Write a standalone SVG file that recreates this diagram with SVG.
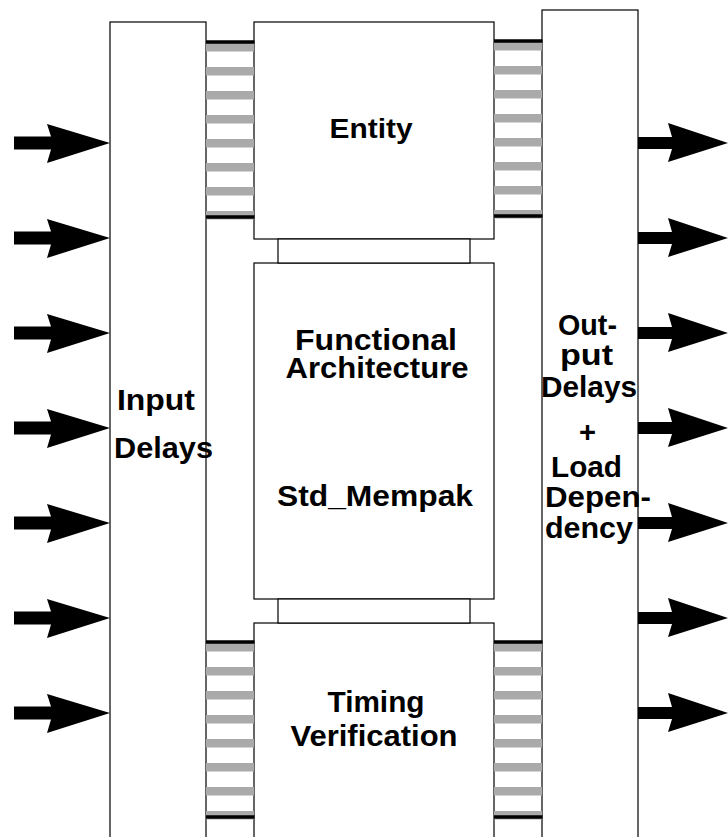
<svg xmlns="http://www.w3.org/2000/svg" width="728" height="837" viewBox="0 0 728 837">
  <style>
    .box { fill: #ffffff; stroke: #000000; stroke-width: 1.2; }
    .rung { fill: #aaaaaa; }
    .bar { stroke: #000000; stroke-width: 3.5; }
    .arrow { fill: #000000; }
    .lbl { font-family: "Liberation Sans", Arial, Helvetica, sans-serif; font-weight: bold; fill: #000000; }
  </style>
  <defs>
    <!-- one ladder of grey rungs between two black bars, 48 wide -->
    <g id="ladder">
      <rect class="rung" x="0" y="0" width="48" height="8.5"/>
      <rect class="rung" x="0" y="24" width="48" height="8.5"/>
      <rect class="rung" x="0" y="48" width="48" height="8.5"/>
      <rect class="rung" x="0" y="72" width="48" height="8.5"/>
      <rect class="rung" x="0" y="96" width="48" height="8.5"/>
      <rect class="rung" x="0" y="120" width="48" height="8.5"/>
      <rect class="rung" x="0" y="144" width="48" height="8.5"/>
      <rect class="rung" x="0" y="168" width="48" height="8.5"/>
      <line class="bar" x1="0" y1="-1" x2="48.5" y2="-1"/>
      <line class="bar" x1="0" y1="174" x2="48.5" y2="174"/>
    </g>
    <polygon id="arrowL" class="arrow" points="14,136.5 51,136.5 47,124 110,143 47,163 51,149.5 14,149.5"/>
    <polygon id="arrowR" class="arrow" points="638,137 672,137 668,123 728,143 668,162 672,149 638,149"/>
  </defs>

  <!-- side columns -->
  <g id="input-delays">
    <rect class="box" x="110" y="22" width="96" height="830"/>
    <text class="lbl" x="117" y="410" font-size="29" textLength="78" lengthAdjust="spacingAndGlyphs">Input</text>
    <text class="lbl" x="114" y="458" font-size="29" textLength="99" lengthAdjust="spacingAndGlyphs">Delays</text>
  </g>
  <g id="output-delays">
    <rect class="box" x="542" y="10" width="96" height="840"/>
    <text class="lbl" x="558" y="335" font-size="29" textLength="59" lengthAdjust="spacingAndGlyphs">Out-</text>
    <text class="lbl" x="560" y="365" font-size="29" textLength="53" lengthAdjust="spacingAndGlyphs">put</text>
    <text class="lbl" x="541" y="397" font-size="29" textLength="96" lengthAdjust="spacingAndGlyphs">Delays</text>
    <text class="lbl" x="579" y="442" font-size="29" textLength="17" lengthAdjust="spacingAndGlyphs">+</text>
    <text class="lbl" x="551" y="477" font-size="29" textLength="71" lengthAdjust="spacingAndGlyphs">Load</text>
    <text class="lbl" x="545" y="507" font-size="29" textLength="106" lengthAdjust="spacingAndGlyphs">Depen-</text>
    <text class="lbl" x="545" y="538" font-size="29" textLength="88" lengthAdjust="spacingAndGlyphs">dency</text>
  </g>

  <!-- centre blocks -->
  <g id="entity">
    <rect class="box" x="254" y="22" width="240" height="217"/>
    <text class="lbl" x="371" y="138" font-size="28" text-anchor="middle" textLength="83" lengthAdjust="spacingAndGlyphs">Entity</text>
  </g>
  <g id="functional-architecture">
    <rect class="box" x="254" y="263" width="240" height="336"/>
    <text class="lbl" x="376" y="350" font-size="30" text-anchor="middle" textLength="162" lengthAdjust="spacingAndGlyphs">Functional</text>
    <text class="lbl" x="377" y="378" font-size="30" text-anchor="middle" textLength="183" lengthAdjust="spacingAndGlyphs">Architecture</text>
    <text class="lbl" x="375" y="506" font-size="29" text-anchor="middle" textLength="196" lengthAdjust="spacingAndGlyphs">Std_Mempak</text>
  </g>
  <g id="timing-verification">
    <rect class="box" x="254" y="623" width="240" height="230"/>
    <text class="lbl" x="376" y="712" font-size="29" text-anchor="middle" textLength="97" lengthAdjust="spacingAndGlyphs">Timing</text>
    <text class="lbl" x="374" y="746" font-size="30" text-anchor="middle" textLength="167" lengthAdjust="spacingAndGlyphs">Verification</text>
  </g>

  <!-- connectors: links, ladders and signal arrows -->
  <g id="connectors">
    <rect class="box" x="278" y="239" width="192" height="24"/>
    <rect class="box" x="278" y="599" width="192" height="24"/>

    <use href="#ladder" x="206" y="43"/>
    <use href="#ladder" x="494" y="42"/>
    <use href="#ladder" x="206" y="643"/>
    <use href="#ladder" x="494" y="643"/>

    <use href="#arrowL" y="0"/>
    <use href="#arrowL" y="95"/>
    <use href="#arrowL" y="190"/>
    <use href="#arrowL" y="285"/>
    <use href="#arrowL" y="380"/>
    <use href="#arrowL" y="475"/>
    <use href="#arrowL" y="570"/>

    <use href="#arrowR" y="0"/>
    <use href="#arrowR" y="95"/>
    <use href="#arrowR" y="190"/>
    <use href="#arrowR" y="285"/>
    <use href="#arrowR" y="380"/>
    <use href="#arrowR" y="475"/>
    <use href="#arrowR" y="570"/>
  </g>
</svg>
